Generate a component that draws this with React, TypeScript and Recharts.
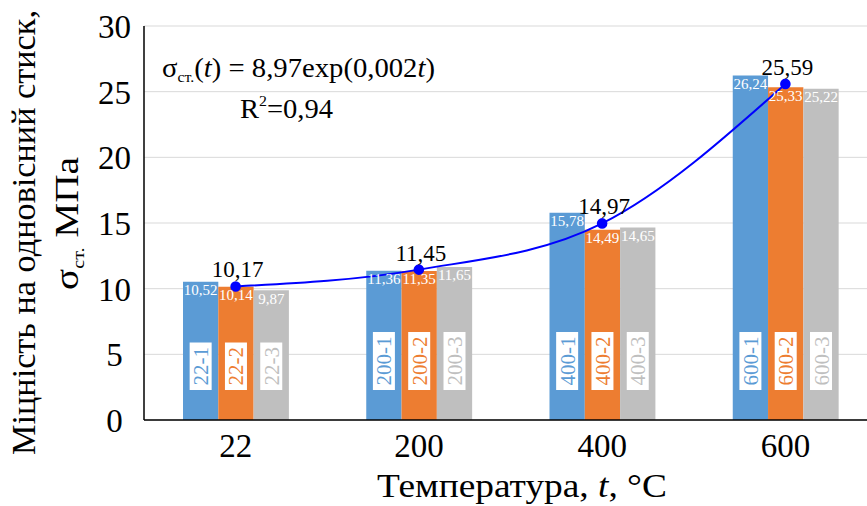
import React from "react";
import { ComposedChart, Bar, Line, XAxis, YAxis, CartesianGrid, LabelList } from "recharts";

// temperature groups and the three specimens tested at each one
const temps = ["22", "200", "400", "600"];
const sample1 = [10.52, 11.36, 15.78, 26.24];
const sample2 = [10.14, 11.35, 14.49, 25.33];
const sample3 = [9.87, 11.65, 14.65, 25.22];
// mean strength used for the exponential trend
const meanFit = [10.17, 11.45, 14.97, 25.59];
const yTicks = [0, 5, 10, 15, 20, 25, 30];

const BLUE = "#5B9BD5";
const ORANGE = "#ED7D31";
const GRAY = "#BFBFBF";
const SERIF = "Liberation Serif, Times New Roman, serif";
const serif = { fontFamily: SERIF };

const data = temps.map((t, i) => ({
  t,
  s1: sample1[i],
  s2: sample2[i],
  s3: sample3[i],
  mean: meanFit[i],
}));

const comma = (v: unknown) => Number(v).toFixed(2).replace(".", ",");

// rough Times widths, enough to size the white tag behind the text
const textEm = (s: string) => s.split("").reduce((a, c) => a + (c === "-" ? 0.333 : 0.5), 0);

function box(props: any) {
  const vb = props.viewBox ?? {};
  return {
    x: Number(props.x ?? vb.x),
    y: Number(props.y ?? vb.y),
    w: Number(props.width ?? vb.width),
    h: Number(props.height ?? vb.height),
  };
}

function tagLabel(color: string, n: number) {
  return (props: any) => {
    const { x, y, w, h } = box(props);
    const label = `${props.value}-${n}`;
    const fs = 21;
    const boxH = textEm(label) * fs + 9;
    const cx = x + w / 2;
    const boxBottom = y + h - 30;
    return (
      <g>
        <rect x={cx - 11} y={boxBottom - boxH} width={22} height={boxH} fill="#fff" />
        <text
          transform={`translate(${cx + 7.5},${boxBottom - 4.5}) rotate(-90)`}
          fill={color}
          fontSize={fs}
          style={serif}
        >
          {label}
        </text>
      </g>
    );
  };
}

function valueLabel(props: any) {
  const { x, y, w } = box(props);
  return (
    <text x={x + w / 2} y={y + 13.5} textAnchor="middle" fill="#fff" fontSize={15} style={serif}>
      {comma(props.value)}
    </text>
  );
}

function meanLabel(props: any) {
  const { x, y } = box(props);
  return (
    <text x={x + 2} y={y - 9} textAnchor="middle" fill="#000" fontSize={23} style={serif}>
      {comma(props.value)}
    </text>
  );
}

function xTick(props: any) {
  return (
    <text x={props.x} y={props.y + 25} textAnchor="middle" fill="#000" fontSize={33} style={serif}>
      {props.payload.value}
    </text>
  );
}

function yTick(props: any) {
  return (
    <text x={114.5} y={props.y + 12} textAnchor="middle" fill="#000" fontSize={33} style={serif}>
      {props.payload.value}
    </text>
  );
}

export default function App() {
  return (
    <div
      style={{
        position: "fixed",
        left: 0,
        top: 0,
        width: 867,
        height: 506,
        overflow: "hidden",
        background: "#fff",
        fontFamily: SERIF,
      }}
    >
      <ComposedChart
        width={880}
        height={506}
        data={data}
        margin={{ top: 26, right: 3, left: 84, bottom: 0 }}
        barGap={0}
        barSize={35.3}
        style={serif}
      >
        <CartesianGrid vertical={false} stroke="#D9D9D9" />
        <XAxis
          dataKey="t"
          height={86}
          interval={0}
          tickSize={0}
          tickMargin={12}
          tick={xTick}
          axisLine={{ stroke: "#000", strokeWidth: 1.5 }}
        />
        <YAxis
          width={60}
          domain={[0, 30]}
          ticks={yTicks}
          tickSize={0}
          tickMargin={11}
          tick={yTick}
          axisLine={{ stroke: "#000", strokeWidth: 1.5 }}
        />
        <Bar dataKey="s1" fill={BLUE} isAnimationActive={false}>
          <LabelList dataKey="s1" content={valueLabel} />
          <LabelList dataKey="t" content={tagLabel(BLUE, 1)} />
        </Bar>
        <Bar dataKey="s2" fill={ORANGE} isAnimationActive={false}>
          <LabelList dataKey="s2" content={valueLabel} />
          <LabelList dataKey="t" content={tagLabel(ORANGE, 2)} />
        </Bar>
        <Bar dataKey="s3" fill={GRAY} isAnimationActive={false}>
          <LabelList dataKey="s3" content={valueLabel} />
          <LabelList dataKey="t" content={tagLabel(GRAY, 3)} />
        </Bar>
        <Line
          dataKey="mean"
          type="monotone"
          stroke="#0000FF"
          strokeWidth={2}
          dot={{ r: 4.3, fill: "#0000FF", stroke: "#0000FF" }}
          isAnimationActive={false}
        >
          <LabelList dataKey="mean" content={meanLabel} />
        </Line>
      </ComposedChart>

      <svg
        width={867}
        height={506}
        style={{ position: "absolute", left: 0, top: 0, pointerEvents: "none", fontFamily: SERIF }}
        fill="#000"
      >
        <text x={162} y={77} fontSize={27} textLength={273} lengthAdjust="spacingAndGlyphs">
          σ<tspan fontSize={15} dy={5}>ст.</tspan>
          <tspan dy={-5}>(</tspan>
          <tspan fontStyle="italic">t</tspan>) = 8,97exp(0,002<tspan fontStyle="italic">t</tspan>)
        </text>
        <text x={240} y={118} fontSize={27} textLength={93} lengthAdjust="spacingAndGlyphs">
          R<tspan fontSize={15} dy={-12}>2</tspan>
          <tspan dy={12}>=0,94</tspan>
        </text>

        <text
          transform="translate(35,455) rotate(-90)"
          fontSize={33}
          textLength={445}
          lengthAdjust="spacingAndGlyphs"
        >
          Міцність на одновісний стиск,
        </text>
        <text
          transform="translate(78,290) rotate(-90)"
          fontSize={33}
          textLength={133}
          lengthAdjust="spacingAndGlyphs"
        >
          σ<tspan fontSize={17} dy={6}>ст.</tspan>
          <tspan dy={-6}> МПа</tspan>
        </text>

        <text x={377} y={497} fontSize={33} textLength={290} lengthAdjust="spacingAndGlyphs">
          Температура, <tspan fontStyle="italic">t</tspan>, °C
        </text>
      </svg>
    </div>
  );
}
